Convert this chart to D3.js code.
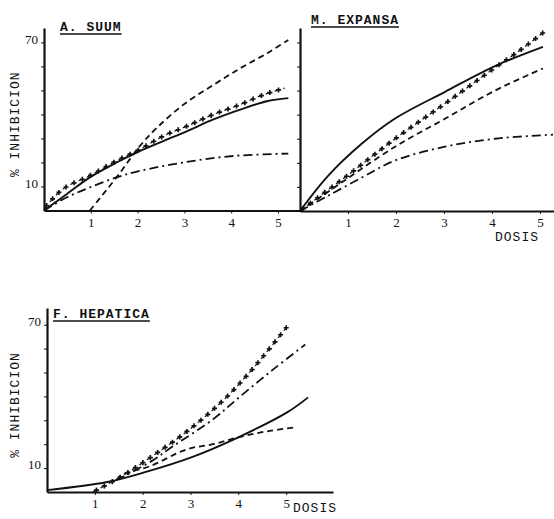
<!DOCTYPE html>
<html>
<head>
<meta charset="utf-8">
<script src="https://d3js.org/d3.v7.min.js"></script>
<style>
  body { margin:0; background:#fff; }
  .axis path, .axis line { stroke:#111; }
  .axis text { font-family:"Liberation Serif", serif; font-size:13px; fill:#111; }
  .lab { font-family:"Liberation Mono", monospace; font-size:13px; fill:#111; letter-spacing:1px; }
</style>
</head>
<body>
<svg id="chart" width="554" height="519"></svg>
<script>
// values, [dose, % inhibicion]
var doseTicks = [1, 2, 3, 4, 5];
var pctTicks = [10, 20, 30, 40, 50, 60, 70];
var pctLabels = [10, 70];

var suumSolid   = [[0,0],[0.49,6.9],[0.98,13.8],[1.55,20],[1.98,24.1],[2.55,28.9],[3.05,33],[3.62,37.9],[4.19,42],[4.76,45.5],[5.22,46.8]];
var suumCross   = [[0,0.8],[0.41,9],[0.98,14.5],[1.55,20.7],[2.05,25.5],[2.55,31],[3.05,35.1],[3.62,40],[4.19,44.1],[4.69,48.2],[5.15,51]];
var suumDash    = [[0.98,0],[1.55,13.8],[2.05,26.9],[2.41,34.4],[2.98,44.1],[3.62,52.3],[4.19,59.2],[4.76,65.4],[5.22,71]];
var suumDashDot = [[0,0],[0.49,5.5],[0.98,9.6],[1.55,13.8],[2.05,16.5],[2.98,20],[4.04,22.7],[5.22,23.7]];

var expSolid   = [[0,0],[0.58,14.5],[1.29,28],[1.98,38.4],[3.02,49.5],[4.06,60.2],[5.06,68.2]];
var expCross   = [[0,0],[0.5,7.5],[0.94,14],[1.98,30],[3.02,44.6],[4.06,59.5],[4.6,67],[5.06,74]];
var expDash    = [[0,0],[0.58,7.9],[1.98,26.7],[3.02,38.3],[4.06,50],[5.06,59.2]];
var expDashDot = [[0,0],[0.58,6.3],[1.3,14],[1.98,21],[3.02,26.7],[4.06,30],[5.27,31.7]];

var hepSolid   = [[0,0.8],[1.26,4.2],[2.05,8.3],[3.03,14.6],[4.0,22.9],[5.02,33.3],[5.46,39.6]];
var hepCross   = [[0.96,0],[1.46,5.4],[1.74,8.8],[2.26,15.8],[2.93,25.4],[3.66,37.9],[4.29,51.3],[5.02,69.2]];
var hepDashDot = [[1.45,5],[2.15,12.5],[2.64,19.2],[3.47,30.4],[4.04,40],[4.73,51.3],[5.4,61.7]];
var hepDash    = [[1.45,5],[1.6,7.5],[2.15,10.8],[2.93,17.9],[3.47,20],[4.0,22.9],[4.6,25.4],[5.19,27]];

//************************************************************
// panels (layout only)
//************************************************************
var panels = [
  { title:"A. SUUM", tx:60, ty:31, x0:44, x1:300, xmax:5.47, y0:210.5, y1:28, ymax:76,
    yLabels:true, ylabel:true, dosis:false,
    series:{solid:suumSolid, cross:suumCross, dash:suumDash, dashdot:suumDashDot} },
  { title:"M. EXPANSA", tx:311, ty:24, x0:300, x1:554, xmax:5.29, y0:211, y1:28, ymax:76,
    yLabels:false, ylabel:false, dosis:[517,241],
    series:{solid:expSolid, cross:expCross, dash:expDash, dashdot:expDashDot} },
  { title:"F. HEPATICA", tx:53, ty:318, x0:47, x1:333, xmax:5.98, y0:492, y1:308, ymax:77,
    yLabels:true, ylabel:true, dosis:[315,512],
    series:{solid:hepSolid, cross:hepCross, dash:hepDash, dashdot:hepDashDot} }
];

var svg = d3.select("#chart");

var styles = {
  solid:   { w:1.9, dash:null },
  dash:    { w:1.8, dash:"6,4" },
  dashdot: { w:1.8, dash:"9,4,2,4" }
};

panels.forEach(function(p) {
  var x = d3.scaleLinear().domain([0, p.xmax]).range([p.x0, p.x1]);
  var y = d3.scaleLinear().domain([0, p.ymax]).range([p.y0, p.y1]);
  var g = svg.append("g");

  // axes
  var yAxis = d3.axisLeft(y).tickValues(pctTicks).tickSize(3).tickSizeOuter(0).tickPadding(3)
      .tickFormat(function(d){ return p.yLabels && pctLabels.indexOf(d) >= 0 ? d : ""; });
  var ya = g.append("g").attr("class","axis").attr("transform","translate(" + p.x0 + ",0)").call(yAxis);
  ya.select(".domain").attr("stroke-width", 2.2);
  ya.selectAll("text").attr("dy", "0.05em");

  var xAxis = d3.axisBottom(x).tickValues(doseTicks).tickSize(3).tickSizeOuter(0).tickPadding(4)
      .tickFormat(d3.format("d"));
  var xa = g.append("g").attr("class","axis").attr("transform","translate(0," + p.y0 + ")").call(xAxis);
  xa.select(".domain").attr("stroke-width", 2.2);

  // title, underlined
  var t = g.append("text").attr("class","lab").attr("x", p.tx).attr("y", p.ty)
      .style("font-weight","bold").text(p.title);
  var tw = t.node().getComputedTextLength();
  g.append("line").attr("x1", p.tx).attr("x2", p.tx + tw).attr("y1", p.ty + 3).attr("y2", p.ty + 3)
      .attr("stroke","#111").attr("stroke-width",1.4);

  if (p.ylabel) {
    g.append("text").attr("class","lab")
      .attr("transform","translate(19," + ((p.y0 + p.y1) / 2 + 5) + ") rotate(-90)")
      .attr("text-anchor","middle").text("% INHIBICION");
  }
  if (p.dosis) {
    g.append("text").attr("class","lab").attr("x", p.dosis[0]).attr("y", p.dosis[1])
      .attr("text-anchor","middle").text("DOSIS");
  }

  var line = d3.line().x(function(d){ return x(d[0]); }).y(function(d){ return y(d[1]); })
      .curve(d3.curveCatmullRom.alpha(0.5));

  ["solid","dash","dashdot"].forEach(function(k) {
    g.append("path").datum(p.series[k]).attr("d", line)
      .attr("fill","none").attr("stroke","#111")
      .attr("stroke-width", styles[k].w)
      .attr("stroke-dasharray", styles[k].dash);
  });

  // crossed curve: "+" marks along the path
  var cp = g.append("path").datum(p.series.cross).attr("d", line)
      .attr("fill","none").attr("stroke","#111").attr("stroke-width",1.2)
      .attr("stroke-dasharray","3,6");
  var node = cp.node(), len = node.getTotalLength();
  var marks = d3.range(4, len, 9).map(function(l){ return node.getPointAtLength(l); });
  g.selectAll(".cross").data(marks).enter().append("path")
    .attr("class","cross")
    .attr("transform", function(d){ return "translate(" + d.x + "," + d.y + ")"; })
    .attr("d", d3.symbol().type(d3.symbolCross).size(14))
    .attr("fill","#111");
});
</script>
</body>
</html>
